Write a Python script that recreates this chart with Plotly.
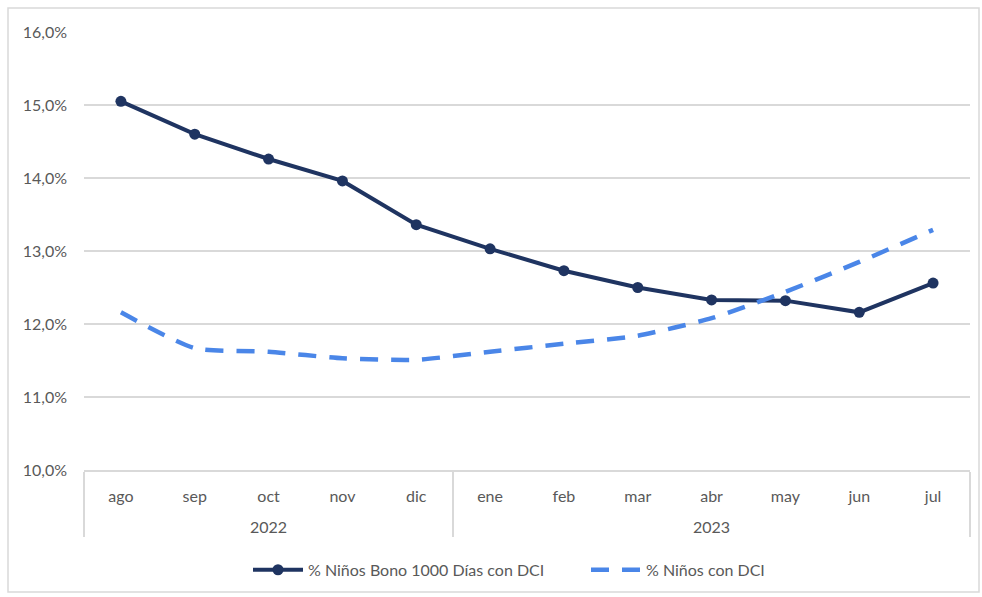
import plotly.graph_objects as go

# Periods on the two-level category axis
years = ["2022"] * 5 + ["2023"] * 7
months = ["ago", "sep", "oct", "nov", "dic", "ene", "feb", "mar", "abr", "may", "jun", "jul"]

# Shares (fraction of children)
bono_dci = [0.1505, 0.1460, 0.1426, 0.1396, 0.1336, 0.1303, 0.1273, 0.1250, 0.1233, 0.1232, 0.1216, 0.1256]
total_dci = [0.1216, 0.1167, 0.1162, 0.1153, 0.1151, 0.1162, 0.1173, 0.1184, 0.1208, 0.1244, 0.1285, 0.1329]

y_ticks = [0.10, 0.11, 0.12, 0.13, 0.14, 0.15, 0.16]

FONT = "Lato, 'Open Sans', sans-serif"
GRAY = "#595959"
GRID = "#d9d9d9"

# year labels carry a leading line break so they sit lower under the months
year_labels = ["<br>" + y for y in years]

fig = go.Figure()
fig.add_trace(go.Scatter(
    x=[year_labels, months], y=bono_dci,
    name="% Niños Bono 1000 Días con DCI",
    mode="lines+markers",
    line=dict(color="#1f3461", width=4),
    marker=dict(color="#1f3461", size=11),
    legend="legend",
))
fig.add_trace(go.Scatter(
    x=[year_labels, months], y=total_dci,
    name="% Niños con DCI",
    mode="lines",
    line=dict(color="#4a86e8", width=4.5, dash="18px,13px", shape="spline", smoothing=0.6),
    legend="legend2",
))

L, R, T, B = 84, 12, 32, 127
W, H = 982, 597
pw, ph = W - L - R, H - T - B

legend_style = dict(orientation="h", xanchor="left", y=-0.228, yanchor="middle",
                    font=dict(size=16, color=GRAY), itemwidth=50,
                    bgcolor="rgba(0,0,0,0)")

fig.update_layout(
    width=W, height=H,
    margin=dict(l=L, r=R, t=T, b=B, autoexpand=False),
    paper_bgcolor="white", plot_bgcolor="white",
    separators=",.",
    font=dict(family=FONT, size=16, color=GRAY),
    showlegend=True,
    legend=dict(x=(248 - L) / pw, **legend_style),
    legend2=dict(x=(586 - L) / pw, **legend_style),
    shapes=[dict(type="rect", xref="paper", yref="paper",
                 x0=(8 - L) / pw, x1=(979 - L) / pw,
                 y0=(H - B - 592) / ph, y1=(H - B - 8) / ph,
                 line=dict(color=GRID, width=1.5), layer="below")],
)
fig.update_xaxes(
    type="multicategory",
    range=[-0.5, 11.5],
    showline=True, linecolor=GRID, linewidth=1.5,
    showgrid=False, ticks="",
    showdividers=True, dividercolor=GRID, dividerwidth=1.5,
    ticklabelstandoff=11,
    tickfont=dict(size=16, color=GRAY),
)
fig.update_yaxes(
    range=[0.10, 0.16],
    tickvals=y_ticks, tickformat=".1%",
    showgrid=True, gridcolor=GRID, gridwidth=1.5,
    zeroline=False, showline=False, ticks="",
    ticklabelstandoff=16,
    tickfont=dict(size=16, color=GRAY),
)

fig.write_html("out.html")
